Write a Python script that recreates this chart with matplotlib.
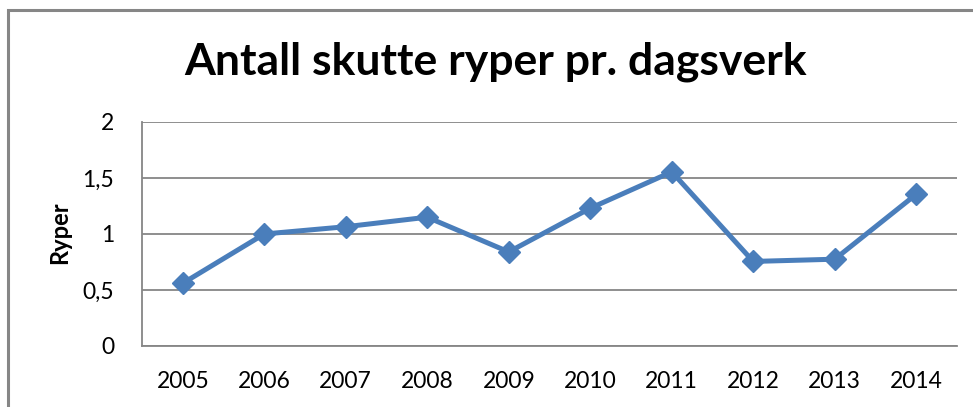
import matplotlib
matplotlib.use("Agg")
import matplotlib.pyplot as plt
from matplotlib.patches import Rectangle

years = ["2005", "2006", "2007", "2008", "2009", "2010", "2011", "2012", "2013", "2014"]
ryper = [0.56, 1.00, 1.065, 1.15, 0.84, 1.23, 1.555, 0.755, 0.775, 1.355]
y_ticks = [0, 0.5, 1, 1.5, 2]
y_tick_labels = ["0", "0,5", "1", "1,5", "2"]
title = "Antall skutte ryper pr. dagsverk"
y_label = "Ryper"

W, H = 973, 407
fig = plt.figure(figsize=(W / 100, H / 100), dpi=100)
fig.patch.set_facecolor("white")

font = ["Lato", "DejaVu Sans"]
grey = "#868686"

# chart border (Excel chart area)
fig.patches.append(Rectangle((8 / W, -0.1), 1.2, (H - 10) / H + 0.1, fill=False,
                             edgecolor=grey, lw=2.2, transform=fig.transFigure,
                             figure=fig, zorder=0))

left, right, top, bottom = 142, 957, 122, 346
ax = fig.add_axes([left / W, (H - bottom) / H, (right - left) / W, (bottom - top) / H])

x = list(range(len(years)))
ax.plot(x, ryper, color="#4A7EBB", lw=3.6, marker="D", markersize=11,
        markerfacecolor="#4A7EBB", markeredgecolor="#4A7EBB", zorder=3, clip_on=False)

ax.set_xlim(-0.5, len(years) - 0.5)
ax.set_ylim(0, 2)
ax.set_xticks(x)
ax.set_xticklabels(years, fontfamily=font, fontsize=16.5)
ax.set_yticks(y_ticks)
ax.set_yticklabels(y_tick_labels, fontfamily=font, fontsize=16.5)
ax.tick_params(axis="both", length=0)
ax.tick_params(axis="y", pad=20)
ax.tick_params(axis="x", pad=18)

ax.grid(axis="y", color=grey, lw=1.3)
ax.set_axisbelow(True)
for s in ["top", "right"]:
    ax.spines[s].set_visible(False)
for s in ["left", "bottom"]:
    ax.spines[s].set_color(grey)
    ax.spines[s].set_linewidth(1.3)

ax.set_ylabel(y_label, fontfamily=font, fontweight="bold", fontsize=17, va="center")
ax.yaxis.set_label_coords((60 - left) / (right - left), (bottom - 233) / (bottom - top))

fig.text(496 / W, (H - 75) / H, title, ha="center", va="baseline",
         fontfamily=font, fontweight="bold", fontsize=32)

fig.savefig("out.png", dpi=100)
